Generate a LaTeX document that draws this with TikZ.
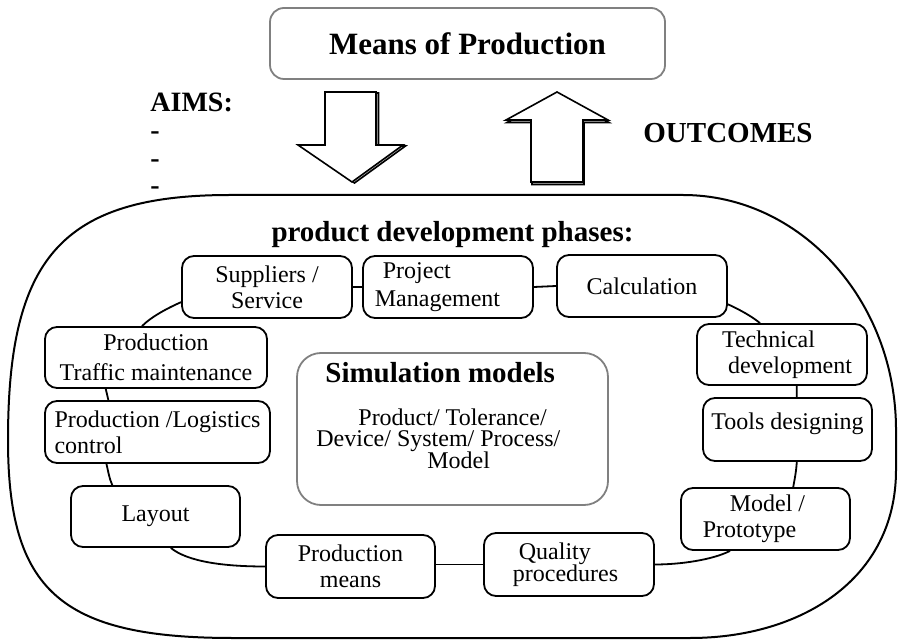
\documentclass[tikz,border=0pt]{standalone}
\usepackage{fontspec}
\setmainfont{Liberation Serif}
\begin{document}
\begin{tikzpicture}[x=0.5pt,y=-0.5pt,
  pbox/.style={draw, line width=0.9pt, rounded corners=6pt, minimum width=85pt, minimum height=31pt, inner sep=0pt, align=center, font=\fontsize{12}{13}\selectfont},
  gbox/.style={draw=gray, line width=0.9pt, inner sep=0pt},
  conn/.style={line width=0.9pt},
  ttl/.style={font=\fontsize{14.5}{16}\selectfont\bfseries, inner sep=0pt},
  txt/.style={font=\fontsize{12}{13}\selectfont, inner sep=0pt},
  blk/.style={draw, line width=0.8pt, fill=white, line join=miter},
  blkshade/.style={draw, line width=0.8pt, fill=gray!40, line join=miter}]

\useasboundingbox (0,0) rectangle (898,640);

% outer region
\draw[line width=1pt] (230,195) -- (683,195) .. controls (800,195) and (896,300) .. (896,430)
  -- (896,470) .. controls (896,580) and (800,638) .. (690,638) -- (233,638)
  .. controls (60,638) and (8,590) .. (8,440) .. controls (8,260) and (60,195) .. (230,195) -- cycle;

% top box
\node[gbox, rounded corners=7pt, minimum width=197.5pt, minimum height=35.5pt,
      font=\fontsize{15.5}{17}\selectfont\bfseries] (mop) at (467.5,43.5) {Means of Production};

% block arrows
\draw[blkshade, shift={(2.5,1)}] (325,92) -- (376,92) -- (376,145) -- (403,145) -- (352,182) -- (298,145) -- (325,145) -- cycle;
\draw[blk] (325,92) -- (376,92) -- (376,145) -- (403,145) -- (352,182) -- (298,145) -- (325,145) -- cycle;
\draw[blkshade, shift={(1,2.5)}] (557,92) -- (608,120) -- (583,120) -- (583,182) -- (531,182) -- (531,120) -- (506,120) -- cycle;
\draw[blk] (557,92) -- (608,120) -- (583,120) -- (583,182) -- (531,182) -- (531,120) -- (506,120) -- cycle;

% labels
\node[ttl, font=\fontsize{14}{16}\selectfont\bfseries, anchor=base west] (aims) at (150,112) {AIMS:};
\node[ttl, font=\fontsize{14}{16}\selectfont\bfseries, anchor=base west] (d1) at (150,140) {-};
\node[ttl, font=\fontsize{14}{16}\selectfont\bfseries, anchor=base west] (d2) at (150,168) {-};
\node[ttl, font=\fontsize{14}{16}\selectfont\bfseries, anchor=base west] (d3) at (150,195) {-};
\node[ttl, anchor=base west] (outc) at (643,143) {OUTCOMES};
\node[ttl, anchor=base] (pdp) at (452.5,242) {product development phases:};

% simulation box
\node[gbox, rounded corners=12pt, minimum width=155.5pt, minimum height=76pt] (sim) at (452.5,429) {};
\node[ttl, anchor=base west] (simt) at (325,383) {Simulation models};
\node[txt, anchor=base west] (simA) at (358,425) {Product/ Tolerance/};
\node[txt, anchor=base west] (simB) at (316,446) {Device/ System/ Process/};
\node[txt, anchor=base west] (simC) at (427,468) {Model};

% phase boxes
\node[pbox] (sup) at (267,287) {Suppliers /\\Service};
\node[pbox, align=left, font=\fontsize{12}{14}\selectfont] (proj) at (448,287) {\hspace*{4pt}Project\\Management\hspace*{10.5pt}};
\node[pbox] (calc) at (642,286) {Calculation};
\node[pbox, align=left, minimum height=30.5pt] (tech) at (782,354.5) {\hspace*{5pt}Technical\\\hspace*{8pt}development};
\node[pbox, minimum width=84.5pt, minimum height=31.5pt, text height=6pt, text depth=6pt] (tools) at (787.5,429.5) {Tools designing};
\node[pbox, align=left, minimum width=84.5pt] (model) at (765.5,519) {\hspace*{13.5pt}Model /\hspace*{11.5pt}\\Prototype};
\node[pbox, align=left, minimum height=31.5pt, font=\fontsize{12}{11}\selectfont] (qual) at (569,564.5) {\hspace*{3pt}Quality\\procedures\hspace*{3.5pt}};
\node[pbox, minimum width=84.5pt, minimum height=31.5pt] (pmeans) at (350.5,566.5) {Production\\means};
\node[pbox, minimum width=84.5pt, minimum height=30.5pt] (layout) at (155.5,516.5) {Layout};
\node[pbox, align=left, minimum width=112.5pt] (logis) at (157.5,432) {Production /Logistics\\control};
\node[pbox, minimum width=111pt, minimum height=30.5pt, font=\fontsize{12}{15}\selectfont] (traffic) at (156,357.5) {Production\\Traffic maintenance};

% connectors
\draw[conn] (sup.east) -- (proj.west);
\draw[conn] (proj.east) -- (calc.west);
\draw[conn] (calc.-12.6) .. controls (738,309) and (750,315) .. (tech.125);
\draw[conn] (tech.-65.4) -- (tools.74.9);
\draw[conn] (tools.-74.9) .. controls (796,474) and (794,482) .. (model.49.5);
\draw[conn] (model.-138.9) .. controls (712,560) and (680,564.5) .. (qual.east);
\draw[conn] (qual.west) -- (qual.west -| pmeans.east);
\draw[conn] (pmeans.west) .. controls (225,566.5) and (188,562) .. (layout.-64.6);
\draw[conn] (layout.144.96) .. controls (109,478) and (108,470) .. (logis.212.05);
\draw[conn] (logis.147.95) -- (traffic.212.44);
\draw[conn] (traffic.114.65) .. controls (152,316) and (170,307) .. (sup.190.66);
\end{tikzpicture}
\end{document}
